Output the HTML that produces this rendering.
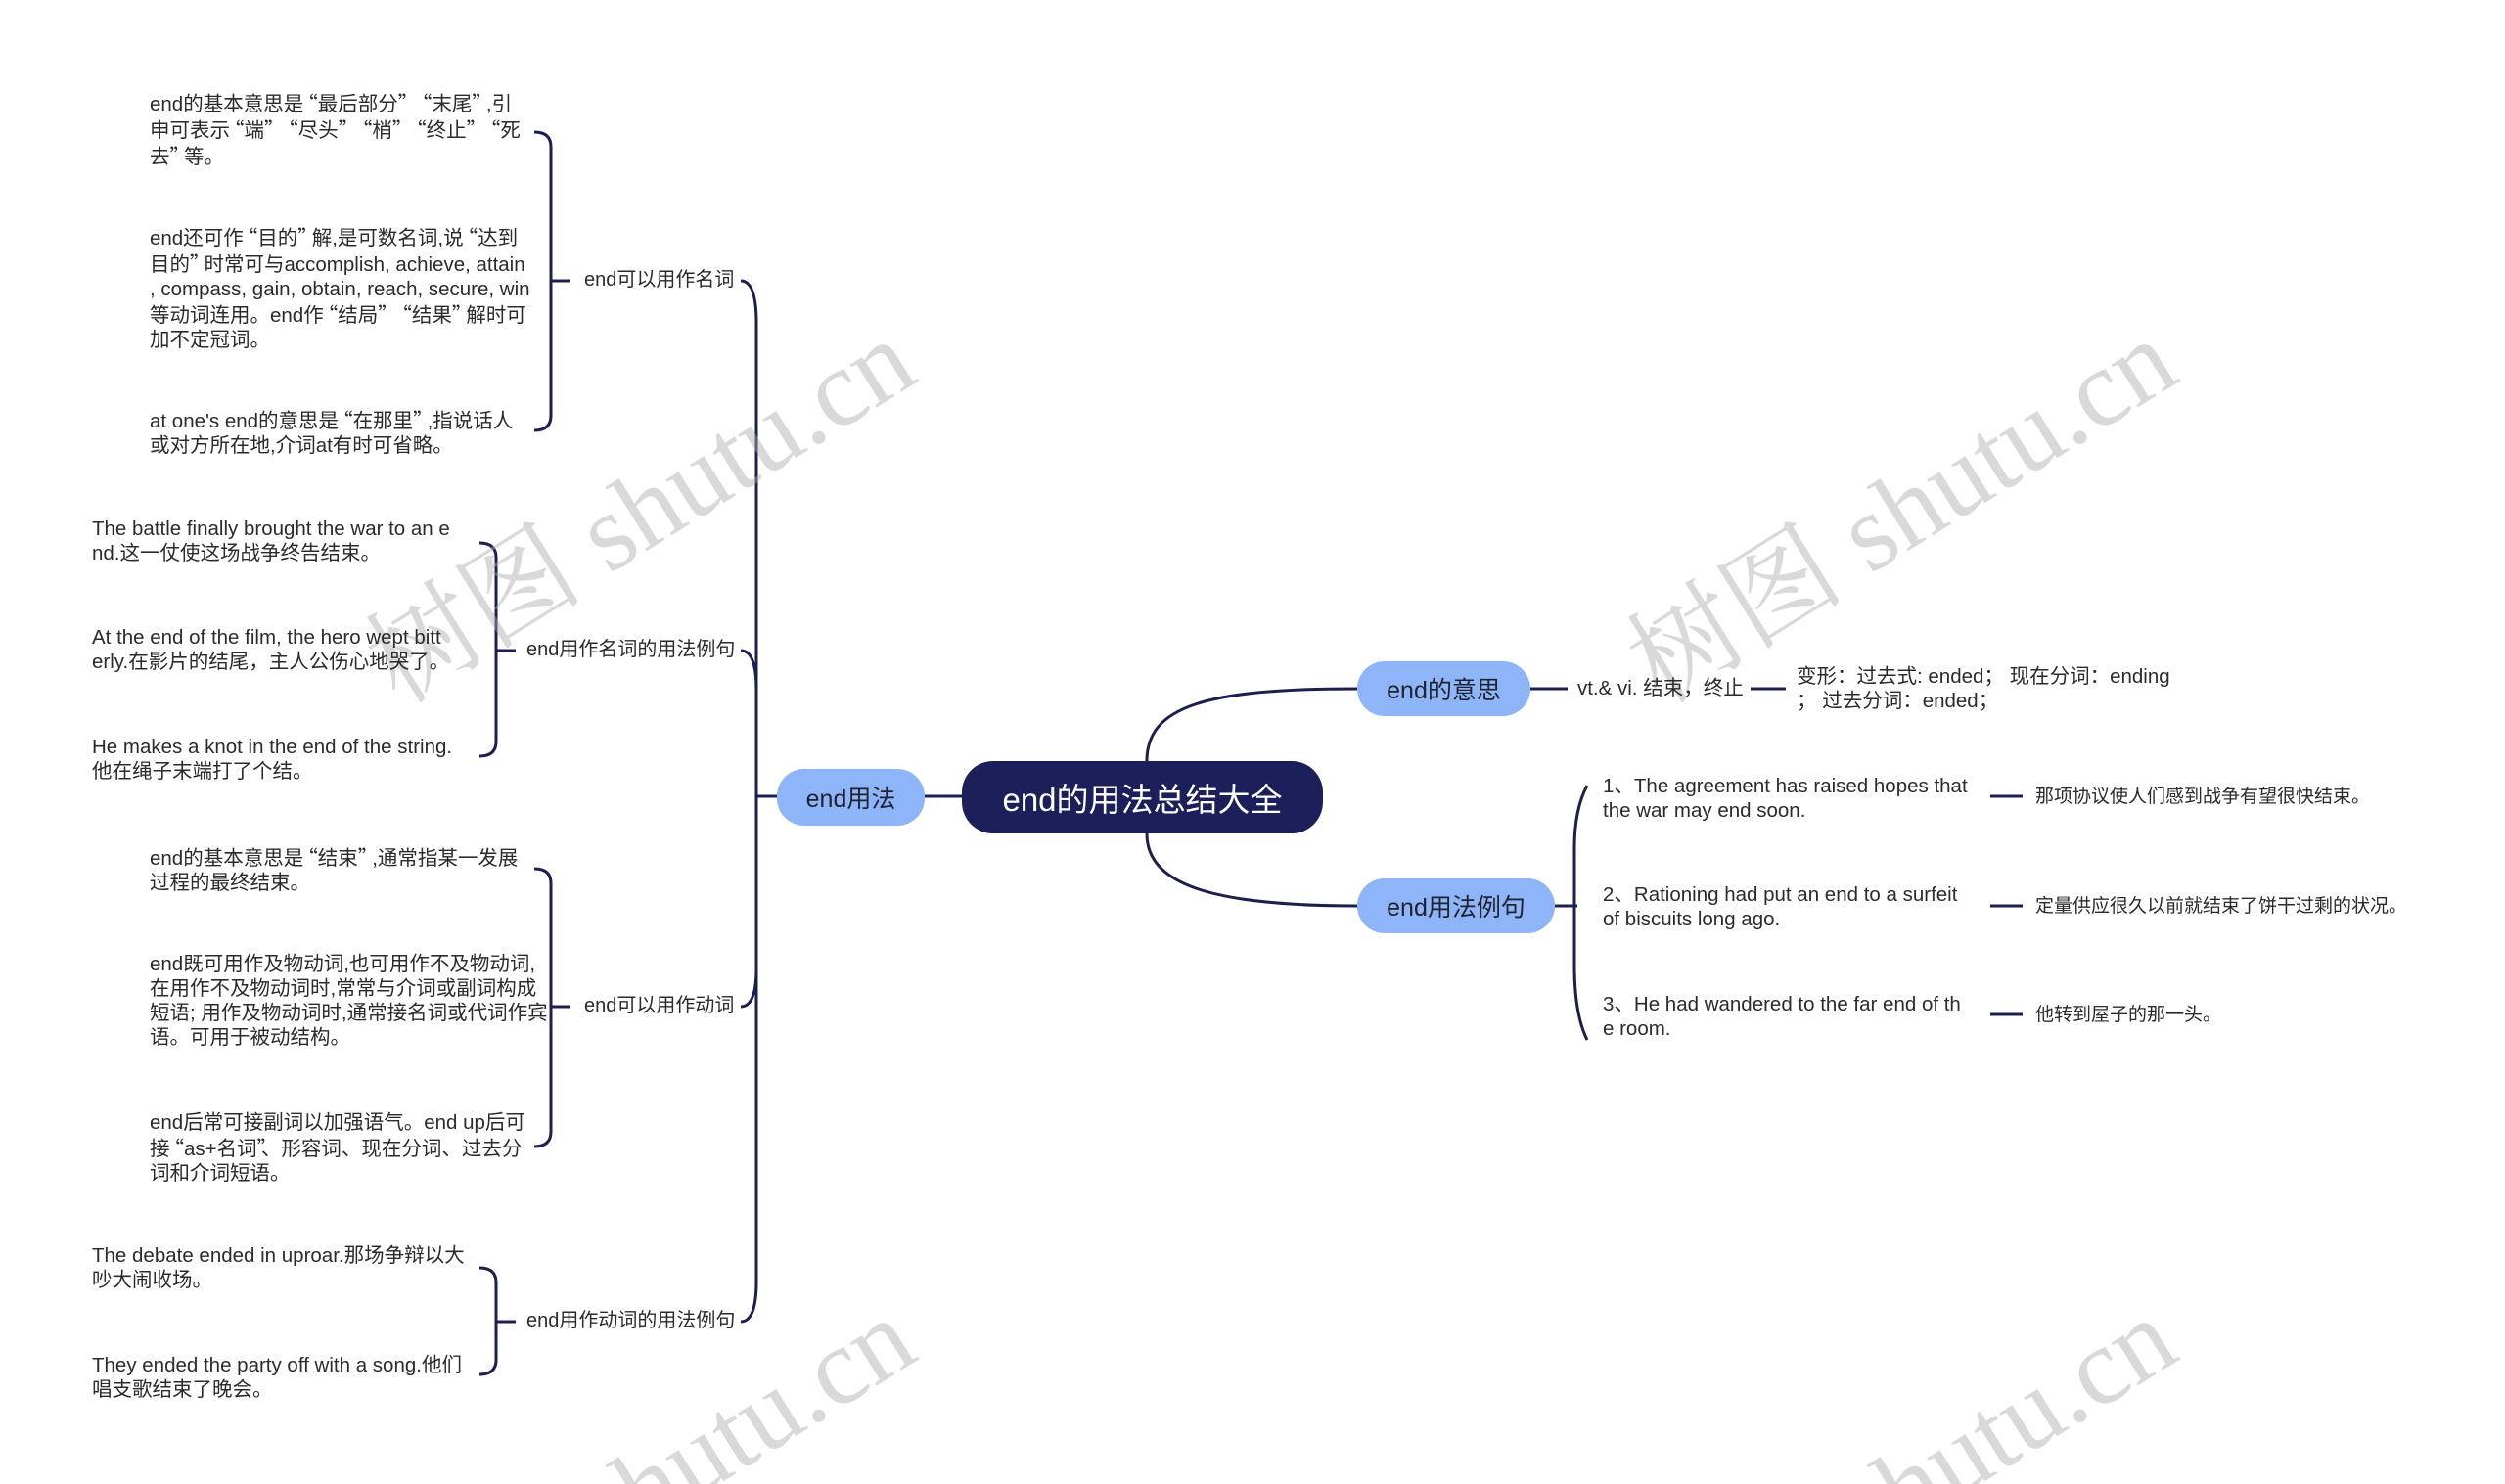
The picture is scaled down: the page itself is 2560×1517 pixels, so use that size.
<!DOCTYPE html>
<html><head><meta charset="utf-8">
<style>
html,body{margin:0;padding:0;background:#fff;overflow:hidden;width:2560px;height:1517px;}
body{position:relative;font-family:"Liberation Sans","Noto Sans CJK SC",sans-serif;color:#2b2b2b;}
.o{font-family:"Noto Sans CJK SC",sans-serif;margin-left:-6px;}
.e{font-family:"Noto Sans CJK SC",sans-serif;margin-right:-6px;}
.t{position:absolute;font-size:20.5px;line-height:25px;white-space:nowrap;}
.c{position:absolute;font-size:19px;line-height:25px;white-space:nowrap;}
.l{position:absolute;font-size:20px;line-height:25px;white-space:nowrap;}
.node{position:absolute;display:flex;align-items:center;justify-content:center;border-radius:28px;background:#8db5f7;color:#1f2230;font-size:25px;}
#wrap{position:absolute;left:0;top:0;width:2560px;height:1517px;overflow:hidden;}
</style></head><body><div id="wrap">
<svg width="2560" height="1517" style="position:absolute;left:0;top:0" fill="none" stroke="#1c1f4f" stroke-width="3">
<path d="M1172,778 C1172,722 1232,704 1387,704"/>
<path d="M1172,852 C1172,902 1232,926 1387,926"/>
<path d="M945,814 L983,814"/>
<path d="M794,814 L773,814"/>
<path d="M773,814 L773,330 Q773,287 757,287"/>
<path d="M773,814 L773,705 Q773,665 757,665"/>
<path d="M773,814 L773,990 Q773,1029 757,1029"/>
<path d="M773,814 L773,1310 Q773,1351 757,1351"/>
<path d="M546,135 Q563,135 563,150 L563,425 Q563,440 546,440 M563,287 L583,287"/>
<path d="M490,555 Q507,555 507,570 L507,758 Q507,773 490,773 M507,665 L527,665"/>
<path d="M546,888 Q563,888 563,903 L563,1157 Q563,1172 546,1172 M563,1029 L583,1029"/>
<path d="M490,1296 Q507,1296 507,1311 L507,1390 Q507,1405 490,1405 M507,1351 L527,1351"/>
<path d="M1564,704 L1602,704"/>
<path d="M1789,704 L1825,704"/>
<path d="M1589,926 L1612,926"/>
<path d="M1622,803 Q1609,827 1609,867 L1609,987 Q1609,1037 1622,1063"/>
<path d="M2034,814 L2067,814 M2034,926 L2067,926 M2034,1037 L2067,1037"/>
<g stroke="none" fill="rgba(170,170,170,0.45)" font-family="Liberation Serif, Noto Serif CJK SC, serif" font-size="112" text-anchor="middle">
<text x="656" y="560" transform="rotate(-32 656 525)">树图 shutu.cn</text>
<text x="1945" y="560" transform="rotate(-32 1945 525)">树图 shutu.cn</text>
<text x="656" y="1560" transform="rotate(-32 656 1525)">树图 shutu.cn</text>
<text x="1945" y="1560" transform="rotate(-32 1945 1525)">树图 shutu.cn</text>
</g>
</svg>
<div class="node" style="left:983px;top:778px;width:369px;height:74px;border-radius:32px;background:#1c1f5a;color:#fff;font-size:33px;">end的用法总结大全</div>
<div class="node" style="left:794px;top:786px;width:151px;height:58px;">end用法</div>
<div class="node" style="left:1387px;top:676px;width:177px;height:56px;">end的意思</div>
<div class="node" style="left:1387px;top:898px;width:202px;height:56px;">end用法例句</div>

<div class="l" style="left:597px;top:274px;">end可以用作名词</div>
<div class="l" style="left:538px;top:652px;">end用作名词的用法例句</div>
<div class="l" style="left:597px;top:1016px;">end可以用作动词</div>
<div class="l" style="left:538px;top:1338px;">end用作动词的用法例句</div>

<div class="t" style="left:153px;top:92px;">end的基本意思是<span class="o">“</span>最后部分<span class="e">”</span> <span class="o">“</span>末尾<span class="e">”</span>,引<br>申可表示<span class="o">“</span>端<span class="e">”</span> <span class="o">“</span>尽头<span class="e">”</span> <span class="o">“</span>梢<span class="e">”</span> <span class="o">“</span>终止<span class="e">”</span> <span class="o">“</span>死<br>去<span class="e">”</span>等。</div>
<div class="t" style="left:153px;top:229px;">end还可作<span class="o">“</span>目的<span class="e">”</span>解,是可数名词,说<span class="o">“</span>达到<br>目的<span class="e">”</span>时常可与accomplish, achieve, attain<br>, compass, gain, obtain, reach, secure, win<br>等动词连用。end作<span class="o">“</span>结局<span class="e">”</span> <span class="o">“</span>结果<span class="e">”</span>解时可<br>加不定冠词。</div>
<div class="t" style="left:153px;top:416px;">at one's end的意思是<span class="o">“</span>在那里<span class="e">”</span>,指说话人<br>或对方所在地,介词at有时可省略。</div>

<div class="t" style="left:94px;top:528px;">The battle finally brought the war to an e<br>nd.这一仗使这场战争终告结束。</div>
<div class="t" style="left:94px;top:639px;">At the end of the film, the hero wept bitt<br>erly.在影片的结尾，主人公伤心地哭了。</div>
<div class="t" style="left:94px;top:751px;">He makes a knot in the end of the string.<br>他在绳子末端打了个结。</div>

<div class="t" style="left:153px;top:863px;">end的基本意思是<span class="o">“</span>结束<span class="e">”</span>,通常指某一发展<br>过程的最终结束。</div>
<div class="t" style="left:153px;top:973px;">end既可用作及物动词,也可用作不及物动词,<br>在用作不及物动词时,常常与介词或副词构成<br>短语; 用作及物动词时,通常接名词或代词作宾<br>语。可用于被动结构。</div>
<div class="t" style="left:153px;top:1135px;">end后常可接副词以加强语气。end up后可<br>接<span class="o">“</span>as+名词<span class="e">”</span>、形容词、现在分词、过去分<br>词和介词短语。</div>

<div class="t" style="left:94px;top:1271px;">The debate ended in uproar.那场争辩以大<br>吵大闹收场。</div>
<div class="t" style="left:94px;top:1383px;">They ended the party off with a song.他们<br>唱支歌结束了晚会。</div>

<div class="t" style="left:1612px;top:691px;">vt.&amp; vi. 结束，终止</div>
<div class="t" style="left:1836px;top:679px;">变形：过去式: ended；  现在分词：ending<br>；  过去分词：ended；</div>

<div class="t" style="left:1638px;top:791px;">1、The agreement has raised hopes that<br>the war may end soon.</div>
<div class="t" style="left:1638px;top:902px;">2、Rationing had put an end to a surfeit<br>of biscuits long ago.</div>
<div class="t" style="left:1638px;top:1014px;">3、He had wandered to the far end of th<br>e room.</div>
<div class="c" style="left:2080px;top:802px;">那项协议使人们感到战争有望很快结束。</div>
<div class="c" style="left:2080px;top:914px;">定量供应很久以前就结束了饼干过剩的状况。</div>
<div class="c" style="left:2080px;top:1025px;">他转到屋子的那一头。</div>
</div></body></html>
